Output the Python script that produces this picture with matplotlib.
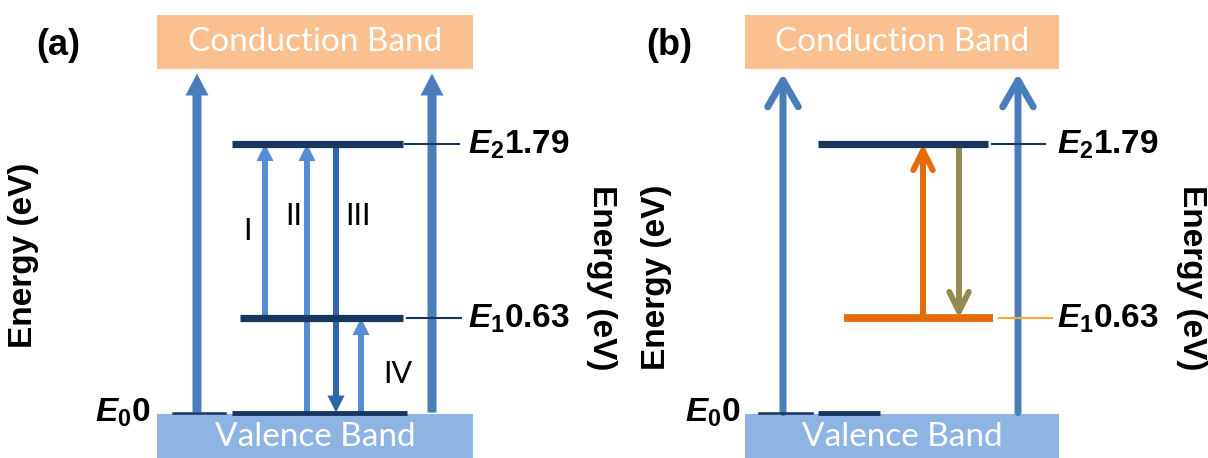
import matplotlib
matplotlib.use("Agg")
import matplotlib.pyplot as plt
from matplotlib.patches import FancyArrowPatch, Rectangle

plt.rcParams['mathtext.fontset'] = 'custom'
plt.rcParams['mathtext.it'] = 'Liberation Sans:italic:bold'
plt.rcParams['mathtext.rm'] = 'Liberation Sans:bold'
plt.rcParams['mathtext.bf'] = 'Liberation Sans:bold'

# energy levels (eV)
level_names = ['E_0', 'E_1', 'E_2']
level_values = [0.0, 0.63, 1.79]
level_text = ['0', '0.63', '1.79']

# panel (a) transitions: label, start level, end level
trans_a_labels = ['I', 'II', 'III', 'IV']
trans_a_start = [0.63, 0.0, 1.79, 0.0]
trans_a_end = [1.79, 1.79, 0.0, 0.63]

# panel (b) transitions: absorption (up) then emission (down)
trans_b_start = [0.63, 1.79]
trans_b_end = [1.79, 0.63]

# schematic band edges (eV)
vb_edges = [-0.31, -0.01]
cb_edges = [2.29, 2.65]
band_arrow_top = 2.26

# colours
NAVY = '#17375E'
CB_COL = '#FAC090'
VB_COL = '#8EB4E3'
BIG_BLUE = '#4A7EBB'
LIGHT_BLUE = '#558ED5'
MID_BLUE = '#2E64AA'
ORANGE = '#E46C0A'
ORANGE_TICK = '#FFA733'
OLIVE = '#948A54'

fig = plt.figure(figsize=(12.08, 4.58), dpi=100)
ax_a = fig.add_axes([0, 0, 0.5, 1])
ax_b = fig.add_axes([0.5, 0, 0.5, 1])
for ax in (ax_a, ax_b):
    ax.set_xlim(0, 604)
    ax.set_ylim(-0.303, 2.75)
    ax.axis('off')


def draw_bands(ax, x0, x1):
    ax.add_patch(Rectangle((x0, cb_edges[0]), x1 - x0, cb_edges[1] - cb_edges[0],
                           color=CB_COL, lw=0, zorder=1))
    ax.add_patch(Rectangle((x0, vb_edges[0]), x1 - x0, vb_edges[1] - vb_edges[0],
                           color=VB_COL, lw=0, zorder=1))
    xc = (x0 + x1) / 2
    ax.text(xc, sum(cb_edges) / 2, 'Conduction Band', color='white', fontsize=24,
            family='Lato', ha='center', va='center', zorder=5)
    ax.text(xc, -0.165, 'Valence Band', color='white', fontsize=24,
            family='Lato', ha='center', va='center', zorder=5)


def level_label(ax, x, i, ha='left'):
    ax.text(x, level_values[i], r'$%s%s$' % (level_names[i], level_text[i]),
            fontsize=24, ha=ha, va='center', zorder=5)


def energy_label(ax, x, y, rot):
    ax.text(x, y, 'Energy (eV)', fontsize=24, fontweight='bold', family='Liberation Sans',
            rotation=rot, ha='center', va='center', zorder=5)


# ---------------- panel (a) ----------------
draw_bands(ax_a, 157, 473)
for xb in (197, 432):
    ax_a.arrow(xb, level_values[0], 0, band_arrow_top - level_values[0], width=9,
               head_width=23, head_length=22 / 150, length_includes_head=True,
               color=BIG_BLUE, lw=0, zorder=2)

trans_a_x = [265, 307, 336, 361]
trans_a_col = [LIGHT_BLUE, LIGHT_BLUE, MID_BLUE, LIGHT_BLUE]
for x, y0, y1, c in zip(trans_a_x, trans_a_start, trans_a_end, trans_a_col):
    ax_a.arrow(x, y0, 0, y1 - y0, width=6, head_width=17, head_length=17 / 150,
               length_includes_head=True, color=c, lw=0, zorder=2)

roman_pos = [(248, 1.21), (293.5, 1.31), (357.5, 1.31), (398, 0.257)]
for lab, (x, y) in zip(trans_a_labels, roman_pos):
    ax_a.text(x, y, lab, fontsize=22, family='Lato', ha='center', va='center', zorder=5)

lev_a_x = [(232, 407), (240, 403), (232, 403)]
lev_a_lw = [3.5, 5.2, 5.2]
for (x0, x1), y, lw in zip(lev_a_x, level_values, lev_a_lw):
    ax_a.plot([x0, x1], [y, y], color=NAVY, lw=lw, solid_capstyle='butt', zorder=4)
ax_a.plot([173, 225], [level_values[0]] * 2, color=NAVY, lw=1.8, zorder=4)
ax_a.plot([407, 461], [level_values[1]] * 2, color=NAVY, lw=1.5, zorder=4)
ax_a.plot([405, 459], [level_values[2]] * 2, color=NAVY, lw=1.5, zorder=4)

level_label(ax_a, 468, 2)
level_label(ax_a, 468, 1)
level_label(ax_a, 150, 0, ha='right')
energy_label(ax_a, 24, 1.05, 90)
energy_label(ax_a, 601, 0.9, 270)
ax_a.text(58, 2.45, '(a)', fontsize=26, fontweight='bold', family='Liberation Sans',
          ha='center', va='center')

# ---------------- panel (b) ----------------
draw_bands(ax_b, 141, 455)
for xb in (179, 414):
    ax_b.add_patch(FancyArrowPatch((xb, level_values[0]), (xb, band_arrow_top),
                                   arrowstyle='->,head_length=19,head_width=11',
                                   mutation_scale=1, lw=5, color=BIG_BLUE,
                                   capstyle='round', joinstyle='round',
                                   shrinkA=0, shrinkB=0, zorder=2))

trans_b_x = [319, 355]
trans_b_col = [ORANGE, OLIVE]
for x, y0, y1, c in zip(trans_b_x, trans_b_start, trans_b_end, trans_b_col):
    ax_b.add_patch(FancyArrowPatch((x, y0), (x, y1),
                                   arrowstyle='->,head_length=14,head_width=7',
                                   mutation_scale=1, lw=4.3, color=c,
                                   capstyle='round', joinstyle='round',
                                   shrinkA=0, shrinkB=0, zorder=2))

ax_b.plot([214, 384], [level_values[2]] * 2, color=NAVY, lw=5.2, solid_capstyle='butt', zorder=4)
ax_b.plot([240, 389], [level_values[1]] * 2, color=ORANGE, lw=5.6, solid_capstyle='butt', zorder=3)
ax_b.plot([214, 276], [level_values[0]] * 2, color=NAVY, lw=3.5, solid_capstyle='butt', zorder=4)
ax_b.plot([155, 208], [level_values[0]] * 2, color=NAVY, lw=1.8, zorder=4)
ax_b.plot([388, 441], [level_values[2]] * 2, color=NAVY, lw=1.5, zorder=4)
ax_b.plot([395, 448], [level_values[1]] * 2, color=ORANGE_TICK, lw=1.5, zorder=4)

level_label(ax_b, 453, 2)
level_label(ax_b, 453, 1)
level_label(ax_b, 136, 0, ha='right')
energy_label(ax_b, 53, 0.9, 90)
energy_label(ax_b, 588, 0.9, 270)
ax_b.text(65, 2.45, '(b)', fontsize=26, fontweight='bold', family='Liberation Sans',
          ha='center', va='center')

fig.savefig('out.png', dpi=100)
